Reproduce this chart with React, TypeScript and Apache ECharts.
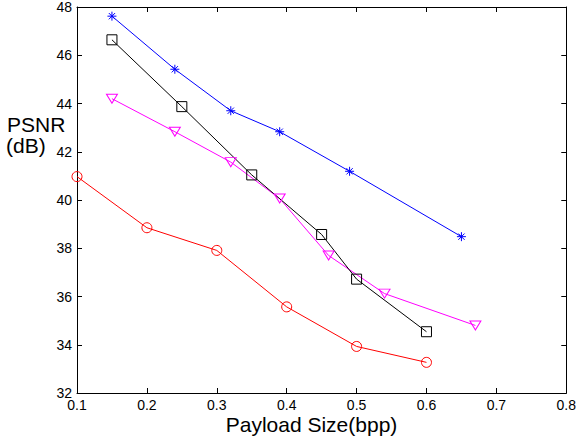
import React, { useEffect, useRef } from "react";
import * as echarts from "echarts";

const xTicks = [0.1, 0.2, 0.3, 0.4, 0.5, 0.6, 0.7, 0.8];
const yTicks = [32, 34, 36, 38, 40, 42, 44, 46, 48];

const blueX = [0.15, 0.24, 0.32, 0.39, 0.49, 0.65];
const blueY = [47.62, 45.42, 43.7, 42.83, 41.19, 38.48];

const blackX = [0.15, 0.25, 0.35, 0.45, 0.5, 0.6];
const blackY = [46.64, 43.87, 41.04, 38.57, 36.72, 34.54];

const magentaX = [0.15, 0.24, 0.32, 0.39, 0.46, 0.54, 0.67];
const magentaY = [44.2, 42.83, 41.57, 40.06, 37.7, 36.12, 34.8];

const redX = [0.1, 0.2, 0.3, 0.4, 0.5, 0.6];
const redY = [40.97, 38.85, 37.91, 35.57, 33.93, 33.27];

const xLabel = "Payload Size(bpp)";
const yLabel1 = "PSNR";
const yLabel2 = "(dB)";

const FONT = "'Liberation Sans', Arial, Helvetica, sans-serif";

const starPath =
  "path://M5,0L5,10M0,5L10,5M1.5,1.5L8.5,8.5M1.5,8.5L8.5,1.5";
const triPath = "path://M0,0L10,0L5,8.66Z";
const rectPath = "path://M0,0L10,0L10,10L0,10Z";

function pairs(xs: number[], ys: number[]) {
  return xs.map((x, i) => [x, ys[i]]);
}

export default function App() {
  const ref = useRef<HTMLDivElement>(null);
  useEffect(() => {
    if (!ref.current) return;
    const chart = echarts.init(ref.current, undefined, { renderer: "svg" });
    const axisLine = { show: true, lineStyle: { color: "#000", width: 1 } };
    const axisTick = { show: true, inside: true, length: 5, lineStyle: { color: "#000", width: 1 } };
    const mkSeries = (name: string, xs: number[], ys: number[], color: string, symbol: string, size: number | number[]) => ({
      name,
      type: "line",
      data: pairs(xs, ys),
      symbol,
      symbolSize: size,
      showAllSymbol: true,
      lineStyle: { color, width: 1 },
      itemStyle: { color: "transparent", borderColor: color, borderWidth: 1 },
      emphasis: { disabled: true },
    });
    chart.setOption({
      animation: false,
      backgroundColor: "#fff",
      textStyle: { fontFamily: FONT },
      grid: { left: 77, right: 12, top: 6, bottom: 49 },
      xAxis: [
        {
          type: "value",
          min: xTicks[0],
          max: xTicks[xTicks.length - 1],
          interval: 0.1,
          axisLine,
          axisTick,
          splitLine: { show: false },
          axisLabel: {
            color: "#000",
            fontSize: 14,
            fontFamily: FONT,
            margin: 5,
            formatter: (v: number) => v.toFixed(1),
          },
        },
        {
          type: "value",
          position: "top",
          min: xTicks[0],
          max: xTicks[xTicks.length - 1],
          interval: 0.1,
          axisLine,
          axisTick,
          splitLine: { show: false },
          axisLabel: { show: false },
        },
      ],
      yAxis: [
        {
          type: "value",
          min: yTicks[0],
          max: yTicks[yTicks.length - 1],
          interval: 2,
          axisLine,
          axisTick,
          splitLine: { show: false },
          axisLabel: { color: "#000", fontSize: 14, fontFamily: FONT, margin: 5 },
        },
        {
          type: "value",
          position: "right",
          min: yTicks[0],
          max: yTicks[yTicks.length - 1],
          interval: 2,
          axisLine,
          axisTick,
          splitLine: { show: false },
          axisLabel: { show: false },
        },
      ],
      series: [
        mkSeries("red", redX, redY, "#ff0000", "circle", 10),
        mkSeries("magenta", magentaX, magentaY, "#ff00ff", triPath, [11, 9]),
        mkSeries("black", blackX, blackY, "#000000", rectPath, 10),
        mkSeries("blue", blueX, blueY, "#0000ff", starPath, 9),
      ],
      graphic: [
        {
          type: "text",
          left: 7,
          top: 114,
          style: { text: yLabel1, fontSize: 21, fontFamily: FONT, fill: "#000" },
        },
        {
          type: "text",
          left: 6,
          top: 135,
          style: { text: yLabel2, fontSize: 21, fontFamily: FONT, fill: "#000" },
        },
        {
          type: "text",
          x: 311.5,
          y: 424.5,
          style: { text: xLabel, fontSize: 21, fontFamily: FONT, fill: "#000", align: "center", verticalAlign: "middle" },
        },
      ],
    });
    return () => chart.dispose();
  }, []);
  return (
    <div
      ref={ref}
      style={{ position: "fixed", left: 0, top: 0, width: 579, height: 442, background: "#fff" }}
    />
  );
}
